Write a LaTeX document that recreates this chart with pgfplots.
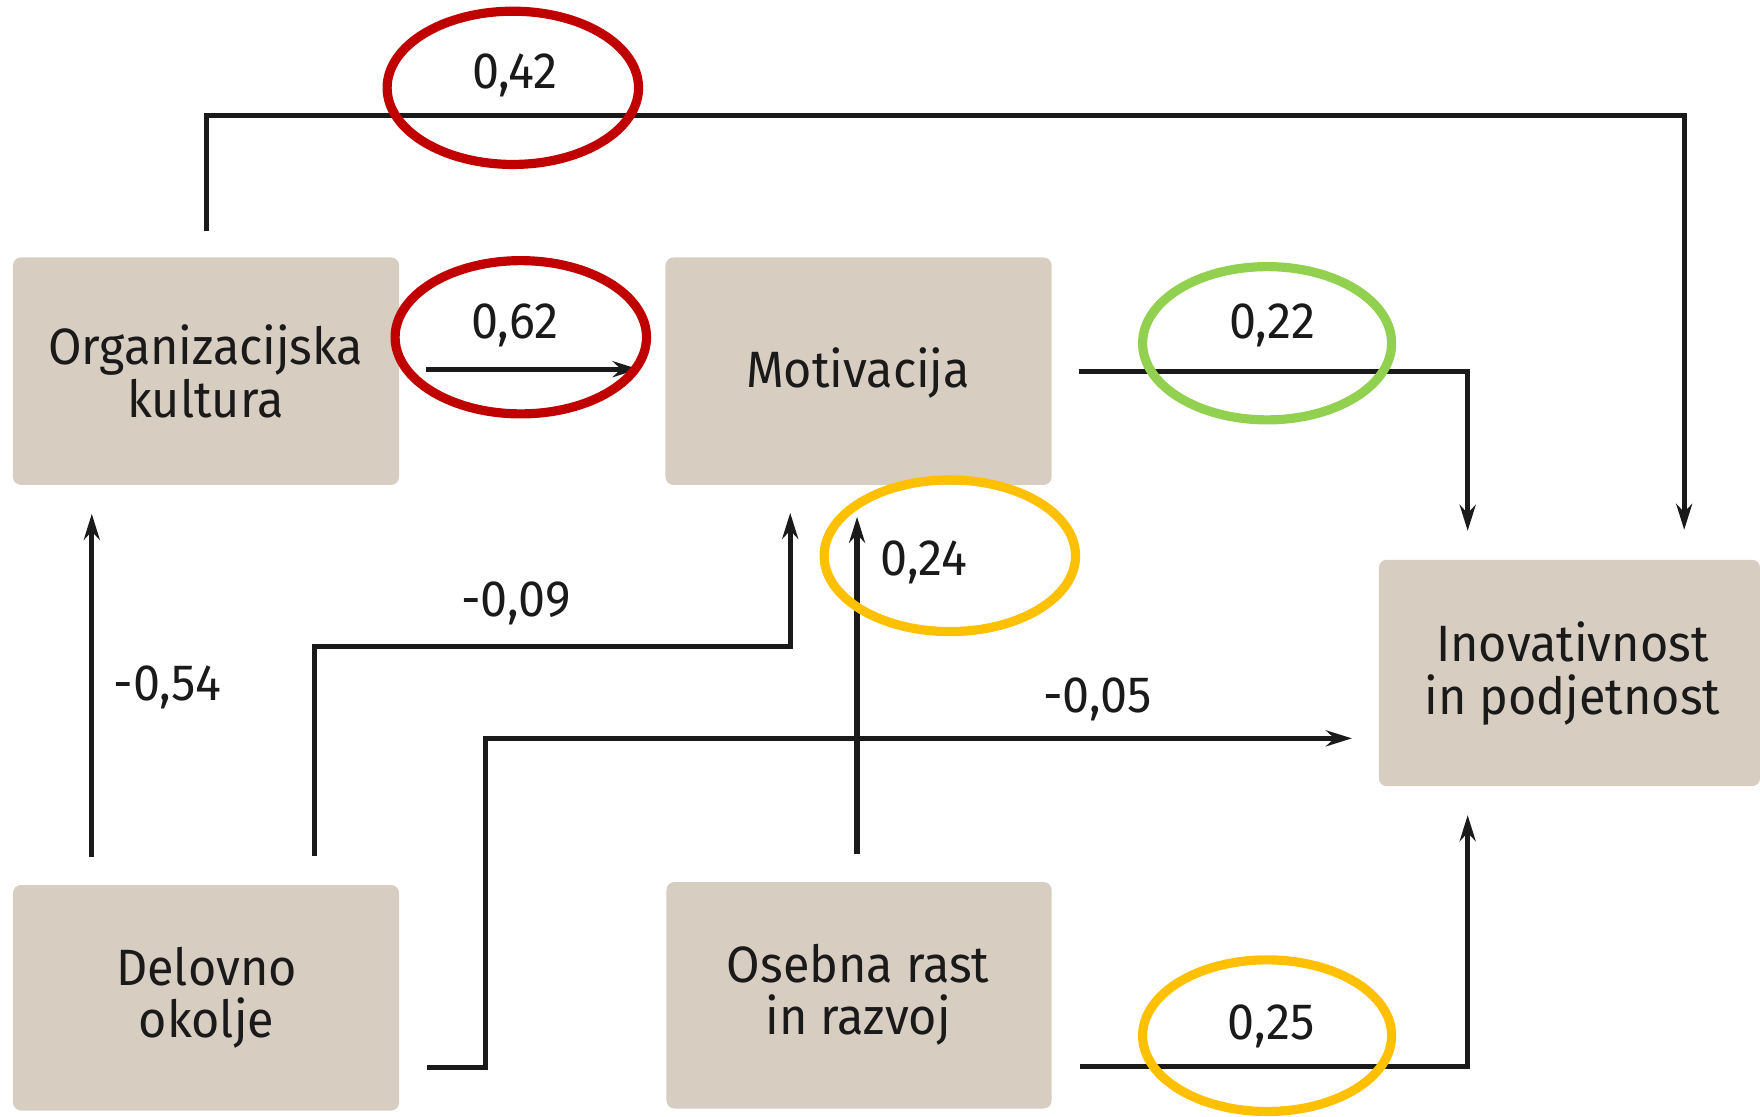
\documentclass[border=0pt]{standalone}
\usepackage{pgfplots}
\pgfplotsset{compat=1.18}
\usetikzlibrary{arrows.meta}
\usepackage{fontspec}
\setmainfont{Fira Sans}[FakeStretch=0.95]
\definecolor{boxc}{RGB}{216,205,193}
\definecolor{linec}{RGB}{26,26,26}
\definecolor{redc}{RGB}{192,0,0}
\definecolor{greenc}{RGB}{146,208,80}
\definecolor{yellc}{RGB}{255,192,0}
\newcommand{\fs}{\fontsize{12.8}{13.2}\selectfont}
\begin{document}
\begin{tikzpicture}
\begin{axis}[
  width=440pt, height=279pt, scale only axis,
  xmin=0, xmax=1760, ymin=0, ymax=1116, y dir=reverse,
  hide axis, clip=false,
  every axis plot/.append style={line width=1.3pt, color=linec},
]
\path (axis cs:0,0) rectangle (axis cs:1760,1116);
% boxes
\addplot[draw=none, fill=boxc, rounded corners=2pt] coordinates {(13,258) (400,258) (400,486) (13,486)} --cycle;
\addplot[draw=none, fill=boxc, rounded corners=2pt] coordinates {(667,258) (1054,258) (1054,486) (667,486)} --cycle;
\addplot[draw=none, fill=boxc, rounded corners=2pt] coordinates {(1382,561) (1764,561) (1764,788) (1382,788)} --cycle;
\addplot[draw=none, fill=boxc, rounded corners=2pt] coordinates {(13,887) (400,887) (400,1113) (13,1113)} --cycle;
\addplot[draw=none, fill=boxc, rounded corners=2pt] coordinates {(668,884) (1054,884) (1054,1111) (668,1111)} --cycle;
% arrows
\addplot[-{Stealth[length=6.5pt,width=4pt]}] coordinates {(207,232) (207,116) (1688,116) (1688,531)};
\addplot[-{Stealth[length=6.5pt,width=4pt]}] coordinates {(427,370) (640,370)};
\addplot[-{Stealth[length=6.5pt,width=4pt]}] coordinates {(1081,372) (1471,372) (1471,532)};
\addplot[-{Stealth[length=6.5pt,width=4pt]}] coordinates {(92,859) (92,515)};
\addplot[-{Stealth[length=6.5pt,width=4pt]}] coordinates {(315,858) (315,648) (792,648) (792,514)};
\addplot[-{Stealth[length=6.5pt,width=4pt]}] coordinates {(859,856) (859,518)};
\addplot[-{Stealth[length=6.5pt,width=4pt]}] coordinates {(428,1070) (487,1070) (487,740) (1355,740)};
\addplot[-{Stealth[length=6.5pt,width=4pt]}] coordinates {(1082,1069) (1471,1069) (1471,817)};
% box labels
\node[align=center, font=\fs, text=linec] at (axis cs:206,372) {Organizacijska\\kultura};
\node[align=center, font=\fs, text=linec] at (axis cs:860,374) {Motivacija};
\node[align=center, font=\fs, text=linec] at (axis cs:1576,675) {Inovativnost\\in podjetnost};
\node[align=center, font=\fs, text=linec] at (axis cs:207,1000) {Delovno\\okolje};
\node[align=center, font=\fs, text=linec] at (axis cs:860,997) {Osebna rast\\in razvoj};
% coefficients
\node[font=\fs, text=linec] at (axis cs:516,76) {0,42};
\node[font=\fs, text=linec] at (axis cs:516,326) {0,62};
\node[font=\fs, text=linec] at (axis cs:1275,326) {0,22};
\node[font=\fs, text=linec] at (axis cs:926,564) {0,24};
\node[font=\fs, text=linec] at (axis cs:517,605) {-0,09};
\node[font=\fs, text=linec] at (axis cs:168,689) {-0,54};
\node[font=\fs, text=linec] at (axis cs:1100,701) {-0,05};
\node[font=\fs, text=linec] at (axis cs:1274,1029) {0,25};
% highlight ellipses
\draw[redc, line width=2.3pt] (axis cs:514,88) ellipse [x radius=31.5pt, y radius=19.2pt];
\draw[redc, line width=2.3pt] (axis cs:522,338) ellipse [x radius=31.5pt, y radius=19.2pt];
\draw[greenc, line width=2.3pt] (axis cs:1270,344) ellipse [x radius=31.2pt, y radius=19.2pt];
\draw[yellc, line width=2.3pt] (axis cs:952,557) ellipse [x radius=31.5pt, y radius=19pt];
\draw[yellc, line width=2.3pt] (axis cs:1270,1038) ellipse [x radius=31.2pt, y radius=19pt];
\end{axis}
\end{tikzpicture}
\end{document}
